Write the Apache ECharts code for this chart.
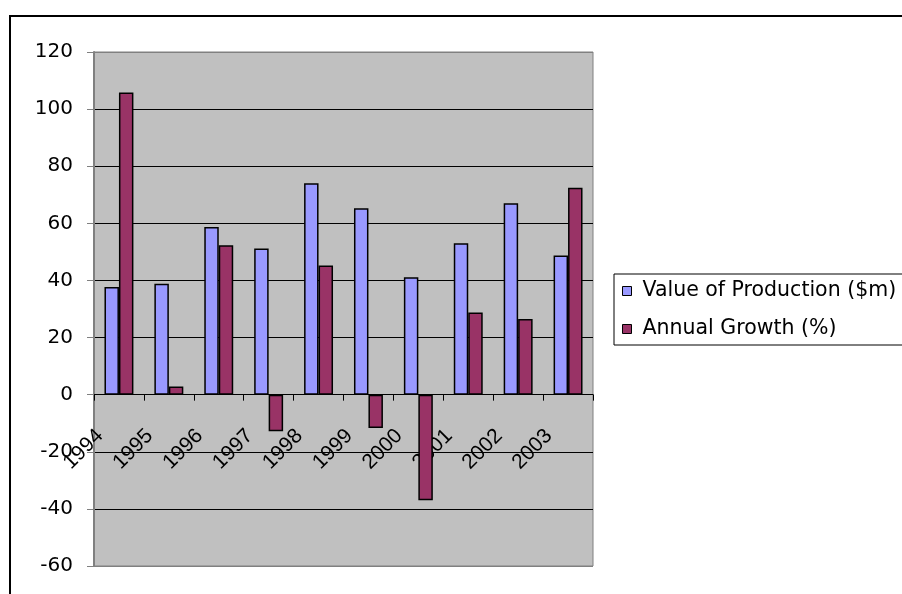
<!DOCTYPE html>
<html>
<head>
<meta charset="utf-8">
<script src="https://cdn.jsdelivr.net/npm/echarts@6/dist/echarts.min.js"></script>
<style>
html,body{margin:0;padding:0;background:#fff;}
#chart{width:902px;height:594px;}
</style>
</head>
<body>
<div id="chart"></div>
<script>
var years = ['1994','1995','1996','1997','1998','1999','2000','2001','2002','2003'];
var valueOfProduction = [37.7, 38.8, 58.7, 51.2, 74.0, 65.3, 41.1, 53.0, 67.0, 48.7];
var annualGrowth = [105.8, 2.9, 52.3, -12.8, 45.2, -11.7, -37.0, 28.8, 26.5, 72.5];
var seriesNames = ['Value of Production ($m)', 'Annual Growth (%)'];
var yMin = -60, yMax = 120, yStep = 20;

var FONT = 'DejaVu Sans';
var FONT_X = 'Liberation Sans';
var GRID_H = 514;
var zeroOffset = -GRID_H * (0 - yMin) / (yMax - yMin);

var chart = echarts.init(document.getElementById('chart'), null, {renderer: 'canvas'});
chart.setOption({
  animation: false,
  backgroundColor: '#ffffff',
  textStyle: {fontFamily: FONT},
  graphic: [{
    type: 'rect',
    shape: {x: 10, y: 16, width: 1000, height: 1000},
    style: {fill: 'none', stroke: '#000', lineWidth: 2},
    silent: true
  }],
  grid: {
    left: 94, top: 52, width: 499, height: GRID_H,
    outerBoundsMode: 'none', containLabel: false,
    show: true, backgroundColor: '#c0c0c0', borderColor: '#808080', borderWidth: 1
  },
  legend: {
    orient: 'vertical',
    left: 614, top: 274,
    padding: [5, 30, 4, 8],
    itemGap: 14,
    itemWidth: 9, itemHeight: 9,
    icon: 'rect',
    borderColor: '#000', borderWidth: 1,
    backgroundColor: '#fff',
    textStyle: {fontFamily: FONT, fontSize: 20.5, color: '#000', lineHeight: 24, padding: [0, 0, 0, 6]},
    itemStyle: {borderColor: '#000', borderWidth: 1},
    data: seriesNames
  },
  xAxis: {
    type: 'category',
    data: years,
    position: 'bottom',
    offset: zeroOffset,
    axisLine: {onZero: false, lineStyle: {color: '#000', width: 1}},
    axisTick: {show: true, alignWithLabel: false, length: 6, lineStyle: {color: '#000'}},
    axisLabel: {
      rotate: 45, margin: 19, interval: 0,
      fontFamily: FONT_X, fontSize: 21, color: '#000',
      padding: [0, 27, 0, 0]
    },
    splitLine: {show: false}
  },
  yAxis: {
    type: 'value',
    min: yMin, max: yMax, interval: yStep,
    axisLine: {show: true, lineStyle: {color: '#808080', width: 2}},
    axisTick: {show: true, length: 7, lineStyle: {color: '#808080'}},
    axisLabel: {margin: 21, fontFamily: FONT, fontSize: 20, color: '#000'},
    splitLine: {show: true, lineStyle: {color: ['#808080','#000','#000','#000','#000','#000','#000','#000','#000','#808080'], width: 1}}
  },
  series: [
    {
      name: seriesNames[0], type: 'bar', data: valueOfProduction,
      barGap: '0%', barCategoryGap: '42%',
      itemStyle: {color: '#9999ff', borderColor: '#000', borderWidth: 1.5}
    },
    {
      name: seriesNames[1], type: 'bar', data: annualGrowth,
      barGap: '0%', barCategoryGap: '42%',
      itemStyle: {color: '#993366', borderColor: '#000', borderWidth: 1.5}
    }
  ]
});
</script>
</body>
</html>
